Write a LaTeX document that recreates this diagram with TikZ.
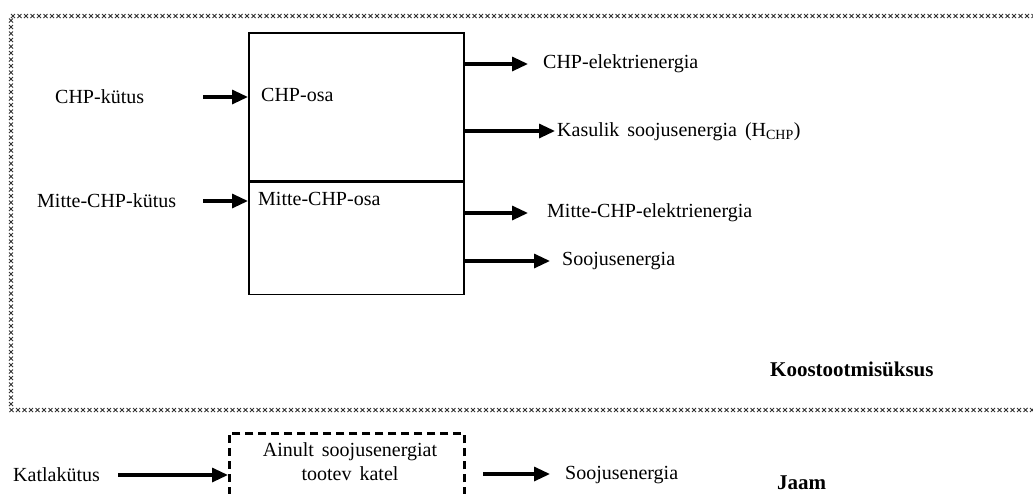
\documentclass[tikz,border=0pt]{standalone}
\usepackage{fontspec}
\setmainfont{Liberation Serif}
\usetikzlibrary{arrows.meta,decorations.markings}
\newcommand\wsp{\hspace{0.15em}}
\begin{document}
\begin{tikzpicture}[x=1pt,y=-1pt,
  every node/.style={font=\fontsize{20}{24}\selectfont, inner sep=0pt, text=black},
  arr/.style={line width=3.2pt, -{Triangle[length=16pt,width=14pt]}},
  xborder/.style={postaction={decorate}, decoration={markings,
     mark=between positions 0 and 1 step 6.5pt with {\draw[line width=1pt, black!80]
       (-2pt,-2pt)--(2pt,2pt) (-2pt,2pt)--(2pt,-2pt);}}},
  box/.style={draw, line width=1.7pt},
  dbox/.style={draw, line width=2.6pt, dash pattern=on 8pt off 5pt},
  title/.style={font=\fontsize{21}{24}\selectfont\bfseries}
]
\useasboundingbox (0,0) rectangle (1033,493);
\clip (0,0) rectangle (1033,493);
% border of the cogeneration unit
\coordinate (bTR) at (1040,16);
\coordinate (bTL) at (11,16);
\coordinate (bBL) at (11,410);
\coordinate (bBR) at (1040,410);
\path[xborder] (bTR) -- (bTL) -- (bBL) -- (bBR);
% main boxes
\node[box, anchor=north west, minimum width=215pt, minimum height=148pt] (chp) at (248,32) {};
\node[box, anchor=north west, minimum width=215pt, minimum height=112pt] (mitte) at (chp.south west) {};
\node[anchor=west] (chposa) at (261,95) {CHP-osa};
\node[anchor=west] (mitteosa) at (258,199) {Mitte-CHP-osa};
% inputs
\node[anchor=west] (chpk) at (55,97) {CHP-kütus};
\coordinate (i1s) at (203,97);
\draw[arr] (i1s) -- (i1s -| chp.west);
\node[anchor=west] (mchpk) at (37,201) {Mitte-CHP-kütus};
\coordinate (i2s) at (203,201);
\draw[arr] (i2s) -- (i2s -| mitte.west);
% outputs
\coordinate (o1e) at (528,64);
\coordinate (o2e) at (555,131);
\coordinate (o3e) at (528,213);
\coordinate (o4e) at (550,261);
\draw[arr] (o1e -| chp.east) -- (o1e);
\draw[arr] (o2e -| chp.east) -- (o2e);
\draw[arr] (o3e -| mitte.east) -- (o3e);
\draw[arr] (o4e -| mitte.east) -- (o4e);
\node[anchor=west] (o1) at (543,64) {CHP-elektrienergia};
\node[anchor=west] (o2) at (557,132) {Kasulik\wsp{} soojusenergia\wsp{} (H\textsubscript{CHP})};
\node[anchor=west] (o3) at (547,213) {Mitte-CHP-elektrienergia};
\node[anchor=west] (o4) at (562,261) {Soojusenergia};
\node[title, anchor=west] (unit) at (770,369) {Koostootmisüksus};
% boiler
\node[anchor=west] (katk) at (13,475) {Katlakütus};
\node[dbox, anchor=north west, minimum width=235pt, minimum height=100pt] (katel) at (228,432) {};
\node[align=center] (kateltxt) at (350,462) {Ainult\wsp{} soojusenergiat\\tootev\wsp{} katel};
\coordinate (k1s) at (118,475);
\draw[arr] (k1s) -- (k1s -| katel.west);
\coordinate (k2s) at (483,474);
\coordinate (k2e) at (550,474);
\draw[arr] (k2s) -- (k2e);
\node[anchor=west] (ksoo) at (565,475) {Soojusenergia};
\node[title, anchor=west] (jaam) at (777,483) {Jaam};
\end{tikzpicture}
\end{document}
